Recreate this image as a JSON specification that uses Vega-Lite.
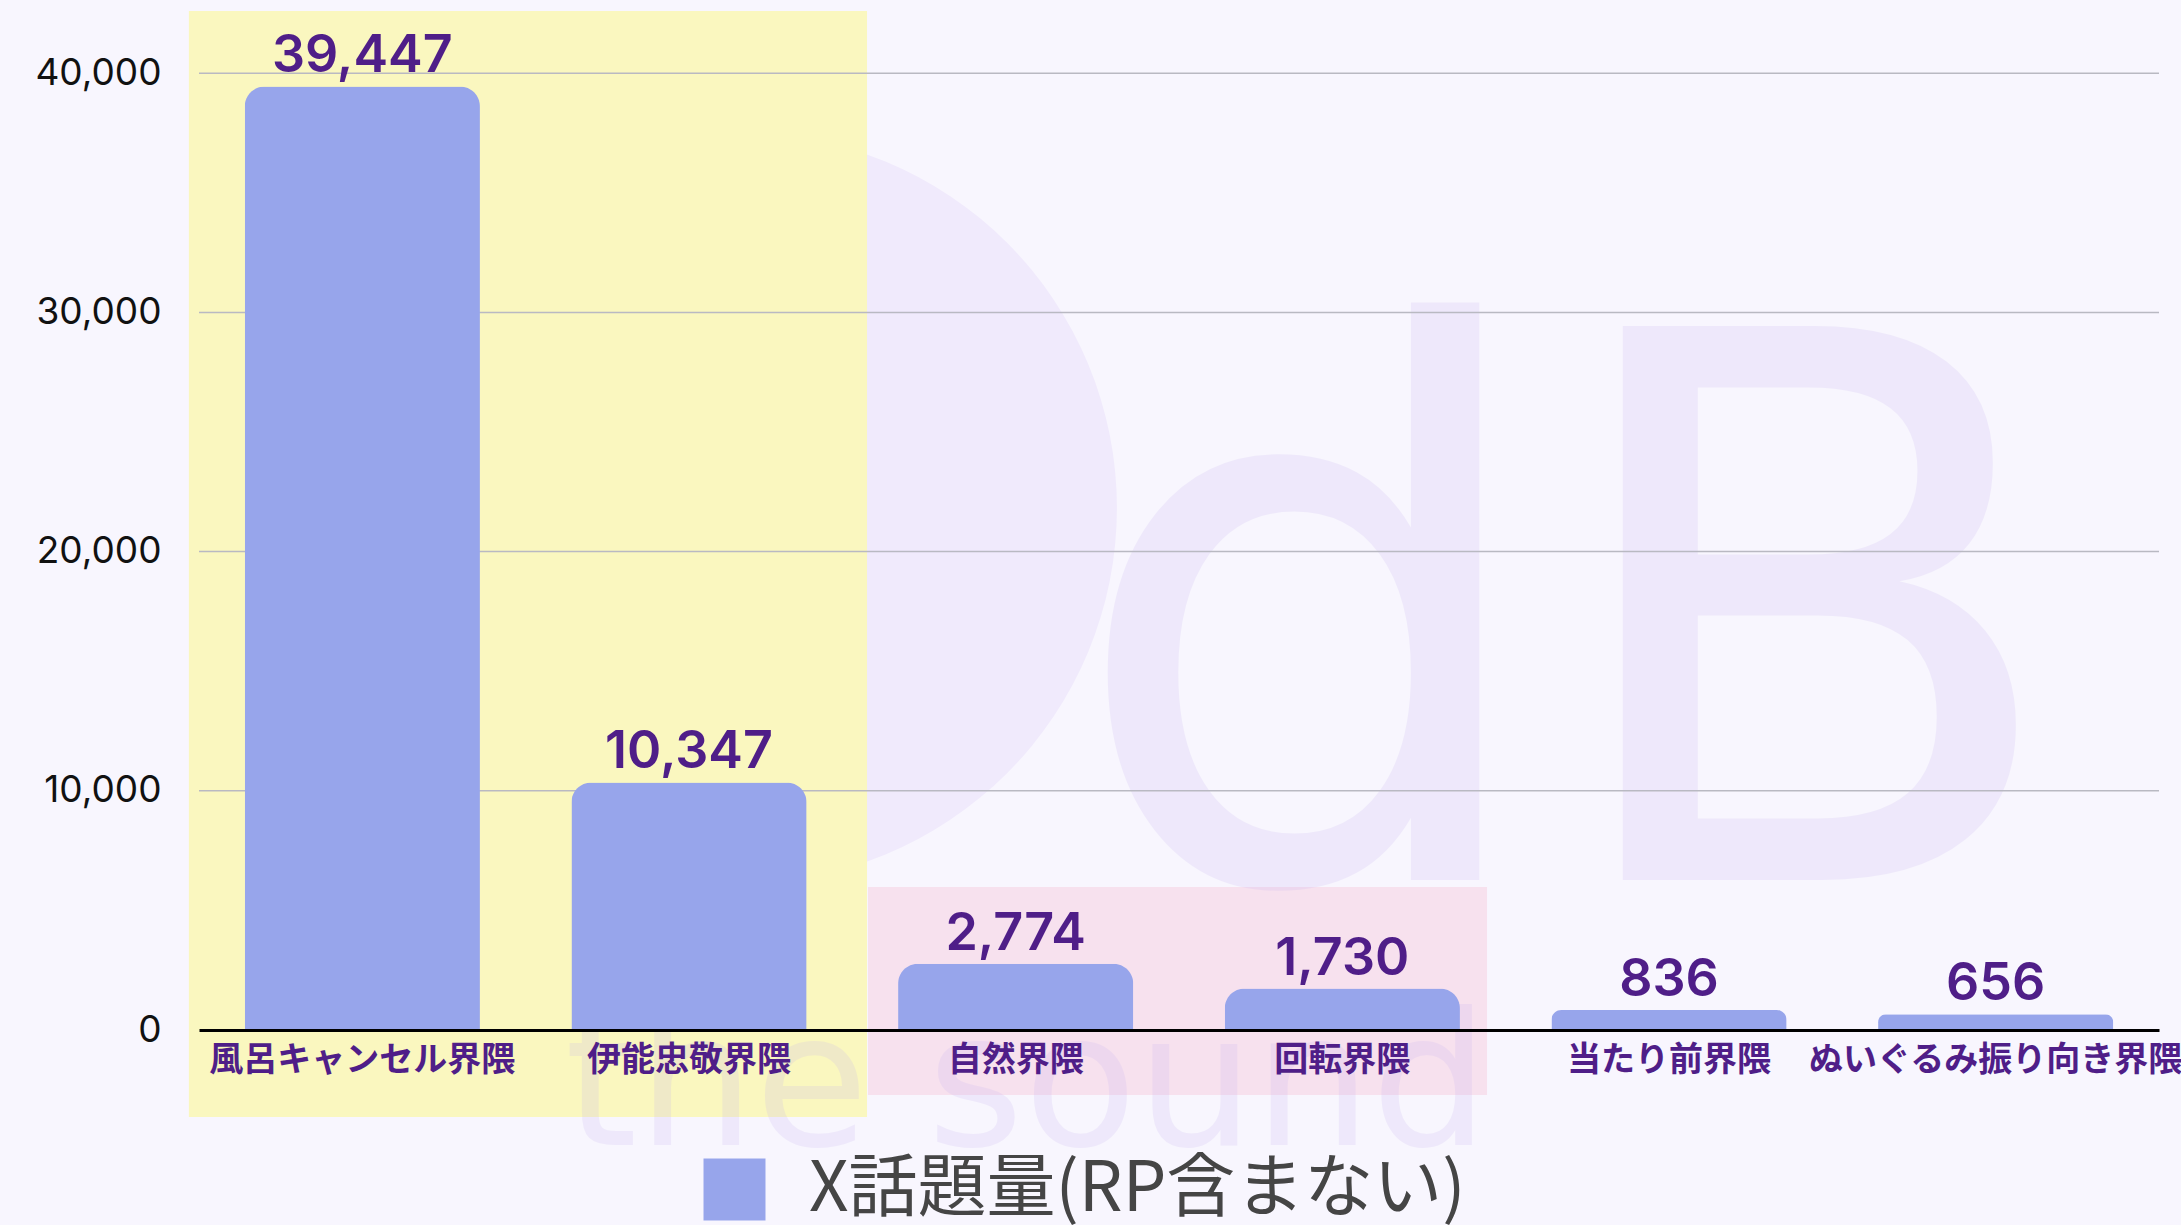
{
  "$schema": "https://vega.github.io/schema/vega-lite/v6.json",
  "width": 1960,
  "height": 1019,
  "autosize": {"type": "none"},
  "padding": {"left": 199, "top": 11, "right": 22, "bottom": 195},
  "background": "#F8F6FE",
  "config": {
    "view": {"stroke": null},
    "axisY": {"grid": false, "domain": false, "ticks": false, "tickSize": 0, "labelFont": "Inter", "labelFontSize": 37, "labelColor": "#111111", "labelPadding": 38, "title": null},
    "axisX": {"grid": false, "title": null},
    "legend": {"orient": "none", "legendX": 501, "legendY": 1144, "symbolType": "square", "symbolSize": 3844, "symbolStrokeWidth": 0, "symbolOpacity": 1, "labelFont": "Noto Sans CJK JP", "labelFontSize": 69, "labelColor": "#454545", "labelOffset": 40, "labelLimit": 2000, "padding": 0, "title": null}
  },
  "datasets": {
    "bars": [
      {"cat": "風呂キャンセル界隈", "value": 39447, "series": "X話題量(RP含まない)"},
      {"cat": "伊能忠敬界隈", "value": 10347, "series": "X話題量(RP含まない)"},
      {"cat": "自然界隈", "value": 2774, "series": "X話題量(RP含まない)"},
      {"cat": "回転界隈", "value": 1730, "series": "X話題量(RP含まない)"},
      {"cat": "当たり前界隈", "value": 836, "series": "X話題量(RP含まない)"},
      {"cat": "ぬいぐるみ振り向き界隈", "value": 656, "series": "X話題量(RP含まない)"}
    ],
    "zones": [
      {"zone": "top2", "x0": -0.031, "x1": 2.045, "y0": -3637, "y1": 42600},
      {"zone": "mid2", "x0": 2.048, "x1": 3.943, "y0": -2717, "y1": 5978}
    ],
    "grid": [{"v": 10000}, {"v": 20000}, {"v": 30000}, {"v": 40000}],
    "disc": [{"x": 1.662, "y": 21823}],
    "watermark": [
      {"t": "dB", "kind": "logo", "x": 4.19, "y": 6271},
      {"t": "the sound", "kind": "tag", "x": 1.12, "y": -4808}
    ]
  },
  "layer": [
    {
      "data": {"name": "disc"},
      "mark": {"type": "circle", "size": 562500, "color": "#F0EAFC", "opacity": 1},
      "encoding": {
        "x": {"field": "x", "type": "quantitative", "scale": {"domain": [0, 6], "nice": false, "zero": false}, "axis": null},
        "y": {"field": "y", "type": "quantitative", "title": null}
      }
    },
    {
      "data": {"name": "zones"},
      "mark": {"type": "rect"},
      "encoding": {
        "x": {"field": "x0", "type": "quantitative", "scale": {"domain": [0, 6], "nice": false, "zero": false}, "axis": null},
        "x2": {"field": "x1"},
        "y": {"field": "y0", "type": "quantitative", "scale": {"domain": [0, 42600], "nice": false}, "title": null},
        "y2": {"field": "y1"},
        "fill": {"field": "zone", "type": "nominal", "scale": {"domain": ["top2", "mid2"], "range": ["#FAF7BF", "#F7E1EE"]}, "legend": null}
      }
    },
    {
      "data": {"name": "watermark"},
      "transform": [{"filter": "datum.kind === 'logo'"}],
      "mark": {"type": "text", "font": "DejaVu Sans", "fontSize": 760, "align": "center", "baseline": "alphabetic", "color": "#C8B4F0", "opacity": 0.2},
      "encoding": {
        "x": {"field": "x", "type": "quantitative", "scale": {"domain": [0, 6], "nice": false, "zero": false}, "axis": null},
        "y": {"field": "y", "type": "quantitative", "title": null},
        "text": {"field": "t"}
      }
    },
    {
      "data": {"name": "watermark"},
      "transform": [{"filter": "datum.kind === 'tag'"}],
      "mark": {"type": "text", "font": "DejaVu Sans", "fontSize": 185, "align": "left", "baseline": "alphabetic", "color": "#C8B4F0", "opacity": 0.2},
      "encoding": {
        "x": {"field": "x", "type": "quantitative", "scale": {"domain": [0, 6], "nice": false, "zero": false}, "axis": null},
        "y": {"field": "y", "type": "quantitative", "title": null},
        "text": {"field": "t"}
      }
    },
    {
      "data": {"name": "grid"},
      "mark": {"type": "rule", "color": "#B9B9C2", "strokeWidth": 1.5},
      "encoding": {
        "y": {"field": "v", "type": "quantitative", "title": null}
      }
    },
    {
      "data": {"name": "bars"},
      "layer": [
        {
          "mark": {"type": "bar", "cornerRadiusTopLeft": 20, "cornerRadiusTopRight": 20},
          "encoding": {
            "x": {"field": "cat", "type": "nominal", "sort": null, "scale": {"paddingInner": 0.28, "paddingOuter": 0.14},
              "axis": {"zindex": 1, "domain": true, "domainColor": "#000000", "domainWidth": 3, "ticks": false, "tickSize": 0, "labelFont": "Noto Sans CJK JP", "labelFontWeight": "bold", "labelFontSize": 34, "labelColor": "#4F1E88", "labelPadding": 30, "labelBaseline": "middle", "labelAngle": 0, "labelLimit": 1000, "labelOverlap": false, "labelBound": false, "title": null}},
            "y": {"field": "value", "type": "quantitative", "title": null, "axis": {"values": [0, 10000, 20000, 30000, 40000], "format": ",d"}},
            "color": {"field": "series", "type": "nominal", "scale": {"range": ["#97A5EB"]}}
          }
        },
        {
          "mark": {"type": "text", "font": "Inter", "fontSize": 52, "fontWeight": 600, "color": "#4F1E88", "baseline": "alphabetic", "dy": -14},
          "encoding": {
            "x": {"field": "cat", "type": "nominal", "sort": null},
            "y": {"field": "value", "type": "quantitative", "title": null},
            "text": {"field": "value", "type": "quantitative", "format": ","}
          }
        }
      ]
    }
  ],
  "resolve": {"scale": {"x": "independent"}}
}
